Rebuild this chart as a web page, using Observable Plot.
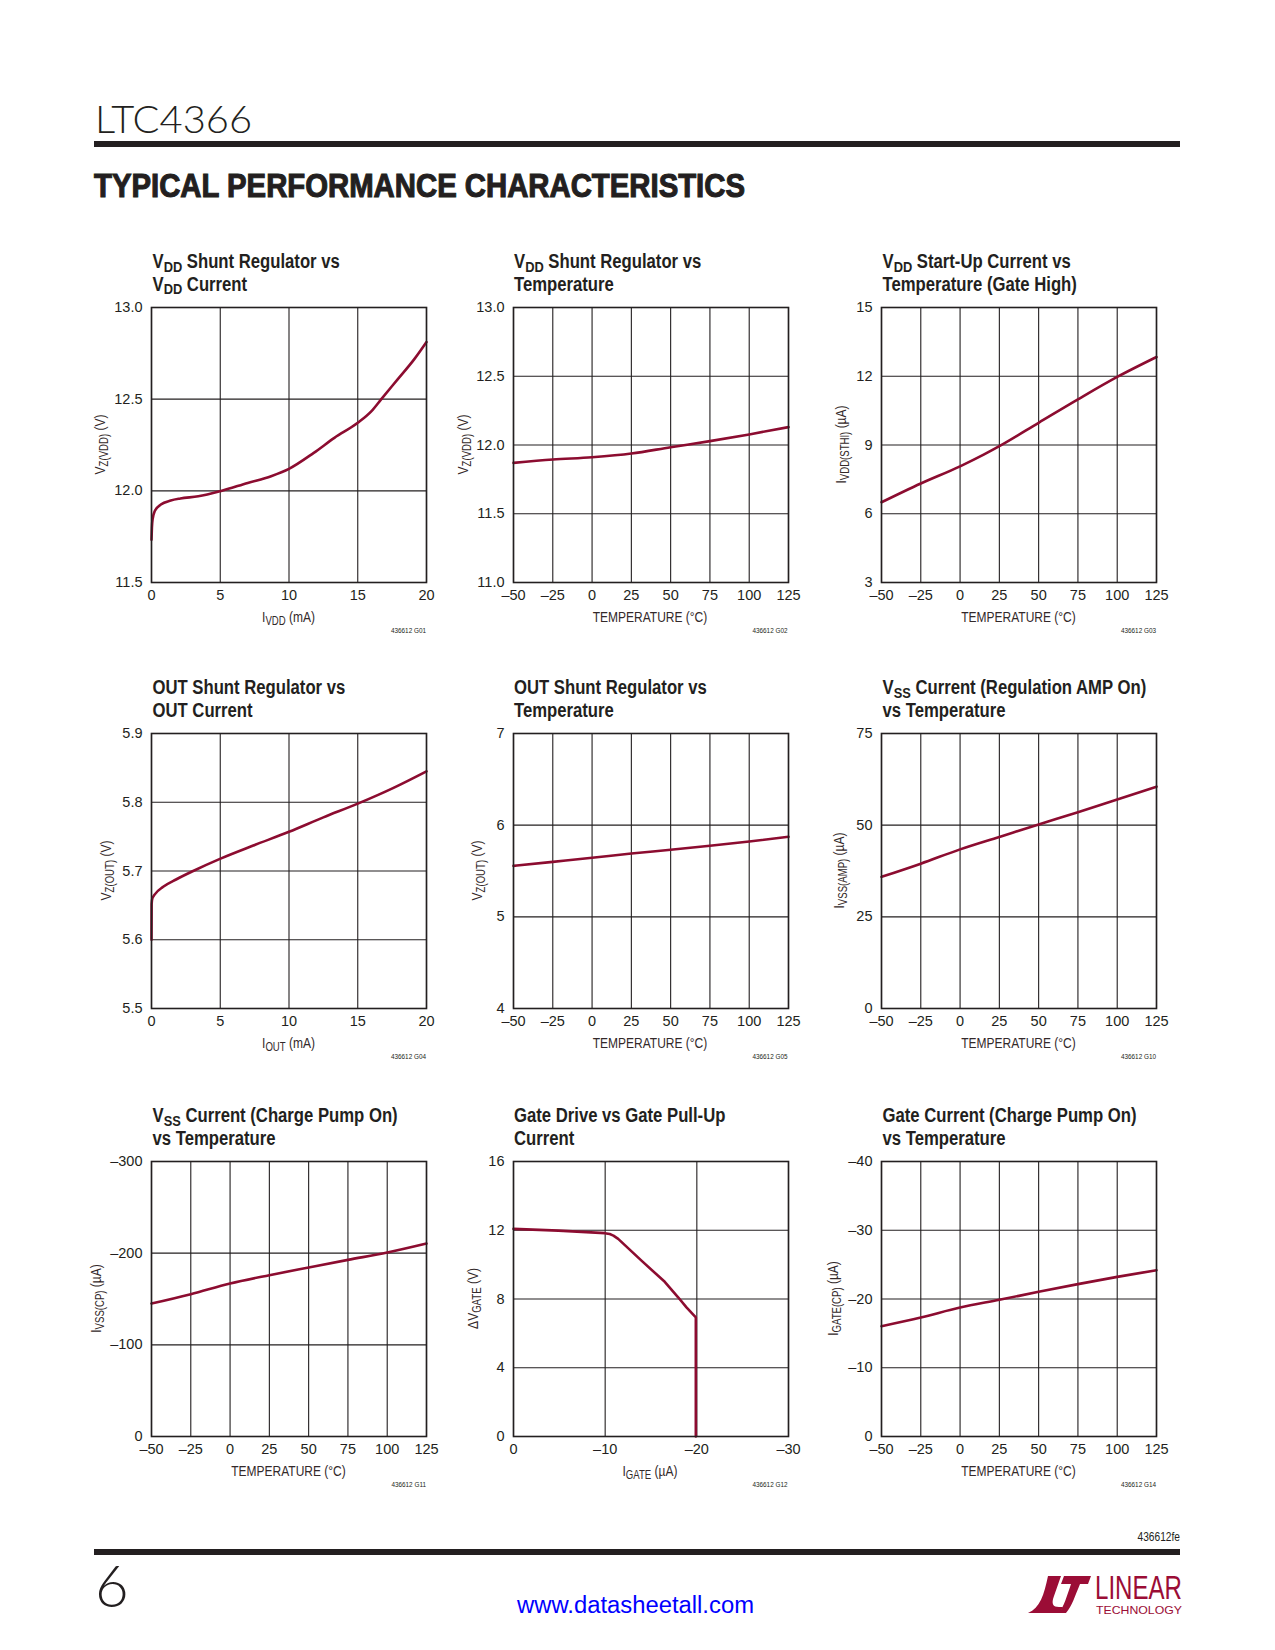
<!DOCTYPE html>
<html>
<head>
<meta charset="utf-8">
<script src="https://cdn.jsdelivr.net/npm/d3@7"></script>
<script src="https://cdn.jsdelivr.net/npm/@observablehq/plot@0.6"></script>
<style>
html, body { margin:0; padding:0; background:#fff; }
#page { position:relative; width:1275px; height:1650px; overflow:hidden; background:#fff; }
.chart { position:absolute; }
#overlay { position:absolute; left:0; top:0; pointer-events:none; }
</style>
</head>
<body>
<div id="page"></div>
<script>
// ---------- tick values and labels ----------
const XT_TEMP = [-50, -25, 0, 25, 50, 75, 100, 125];
const XL_TEMP = ["–50", "–25", "0", "25", "50", "75", "100", "125"];
const XT_MA = [0, 5, 10, 15, 20];
const XL_MA = ["0", "5", "10", "15", "20"];
const XT_GATE = [0, -10, -20, -30];
const XL_GATE = ["0", "–10", "–20", "–30"];
const YT1 = [11.5, 12, 12.5, 13];          const YL1 = ["11.5", "12.0", "12.5", "13.0"];
const YT2 = [11, 11.5, 12, 12.5, 13];      const YL2 = ["11.0", "11.5", "12.0", "12.5", "13.0"];
const YT3 = [3, 6, 9, 12, 15];             const YL3 = ["3", "6", "9", "12", "15"];
const YT4 = [5.5, 5.6, 5.7, 5.8, 5.9];     const YL4 = ["5.5", "5.6", "5.7", "5.8", "5.9"];
const YT5 = [4, 5, 6, 7];                  const YL5 = ["4", "5", "6", "7"];
const YT6 = [0, 25, 50, 75];               const YL6 = ["0", "25", "50", "75"];
const YT7 = [0, -100, -200, -300];         const YL7 = ["0", "–100", "–200", "–300"];
const YT8 = [0, 4, 8, 12, 16];             const YL8 = ["0", "4", "8", "12", "16"];
const YT9 = [0, -10, -20, -30, -40];       const YL9 = ["0", "–10", "–20", "–30", "–40"];

// ---------- series ----------
// G01: VDD shunt regulator vs VDD current
const g01_ivdd = [0, 0.03, 0.08, 0.24, 0.68, 1.4, 2.1, 3.4, 5.0, 7.0, 8.7, 10.0, 11.8, 13.3, 15.0, 16.0, 16.7, 17.9, 19.1, 20.0];
const g01_vz   = [11.733, 11.80, 11.845, 11.89, 11.925, 11.947, 11.958, 11.970, 11.998, 12.043, 12.080, 12.120, 12.207, 12.289, 12.371, 12.435, 12.499, 12.608, 12.717, 12.812];
// G02: VDD shunt regulator vs temperature
const g02_temp = [-50, -25, 0, 25, 50, 75, 100, 125];
const g02_vz   = [11.870, 11.894, 11.911, 11.938, 11.984, 12.028, 12.077, 12.130];
// G03: VDD start-up current vs temperature
const g03_temp = [-50, -25, 0, 15, 25, 50, 75, 100, 125];
const g03_i    = [6.50, 7.32, 8.07, 8.58, 8.95, 9.97, 10.99, 11.97, 12.84];
// G04: OUT shunt regulator vs OUT current
const g04_iout = [0, 0.01, 0.06, 0.24, 0.85, 1.82, 3.03, 5.02, 7.4, 10.0, 12.5, 15.0, 17.6, 20.0];
const g04_vz   = [5.600, 5.652, 5.660, 5.666, 5.677, 5.688, 5.700, 5.718, 5.737, 5.757, 5.778, 5.798, 5.821, 5.845];
// G05: OUT shunt regulator vs temperature
const g05_temp = [-50, -25, 0, 25, 50, 75, 100, 125];
const g05_vz   = [5.556, 5.600, 5.644, 5.691, 5.731, 5.775, 5.822, 5.873];
// G10: VSS current (regulation amp on) vs temperature
const g10_temp = [-50, -25, 0, 25, 50, 75, 100, 125];
const g10_i    = [35.9, 39.5, 43.4, 46.8, 50.2, 53.5, 57.0, 60.5];
// G11: VSS current (charge pump on) vs temperature
const g11_temp = [-50, -25, 0, 25, 50, 75, 100, 125];
const g11_i    = [-145.1, -155.3, -166.9, -176.0, -184.4, -192.7, -200.7, -210.5];
// G12: gate drive vs gate pull-up current
const g12_igate = [0, -4.9, -9.96, -10.5, -10.9, -11.42, -13.96, -16.5, -17.96, -18.87, -19.89, -19.89];
const g12_dv    = [12.08, 11.98, 11.83, 11.78, 11.69, 11.50, 10.23, 9.00, 8.10, 7.51, 6.93, 0];
// G14: gate current (charge pump on) vs temperature
const g14_temp = [-50, -25, 0, 25, 50, 75, 100, 125];
const g14_i    = [-16.05, -17.31, -18.76, -19.88, -21.04, -22.16, -23.22, -24.19];

// ---------- text ----------
const TEMP_LABEL = ["TEMPERATURE (°C)"];

const SANS = '"Liberation Sans", Arial, sans-serif';
const INK = "#231f20";
const LABEL_INK = "#33292a";
const RED = "#8c0c30";
const LOGO = "#9b0d36";

const charts = [
  {left:151, top:307, xs:g01_ivdd, ys:g01_vz, xdom:[0,20], ydom:[11.5,13], xt:XT_MA, xl:XL_MA, yt:YT1, yl:YL1, curve:"monotone-x",
   t1:["V",{sub:"DD"}," Shunt Regulator vs"], t2:["V",{sub:"DD"}," Current"],
   ylab:["V",{sub:"Z(VDD)"}," (V)"], yoff:-46, xlab:["I",{sub:"VDD"}," (mA)"], code:"436612 G01"},
  {left:512.5, top:307, xs:g02_temp, ys:g02_vz, xdom:[-50,125], ydom:[11,13], xt:XT_TEMP, xl:XL_TEMP, yt:YT2, yl:YL2, curve:"monotone-x",
   t1:["V",{sub:"DD"}," Shunt Regulator vs"], t2:["Temperature"],
   ylab:["V",{sub:"Z(VDD)"}," (V)"], yoff:-45, xlab:TEMP_LABEL, code:"436612 G02"},
  {left:881, top:307, xs:g03_temp, ys:g03_i, xdom:[-50,125], ydom:[3,15], xt:XT_TEMP, xl:XL_TEMP, yt:YT3, yl:YL3, curve:"monotone-x",
   t1:["V",{sub:"DD"}," Start-Up Current vs"], t2:["Temperature (Gate High)"],
   ylab:["I",{sub:"VDD(STHI)"}," (µA)"], yoff:-35, xlab:TEMP_LABEL, code:"436612 G03"},
  {left:151, top:733, xs:g04_iout, ys:g04_vz, xdom:[0,20], ydom:[5.5,5.9], xt:XT_MA, xl:XL_MA, yt:YT4, yl:YL4, curve:"monotone-x",
   t1:["OUT Shunt Regulator vs"], t2:["OUT Current"],
   ylab:["V",{sub:"Z(OUT)"}," (V)"], yoff:-40, xlab:["I",{sub:"OUT"}," (mA)"], code:"436612 G04"},
  {left:512.5, top:733, xs:g05_temp, ys:g05_vz, xdom:[-50,125], ydom:[4,7], xt:XT_TEMP, xl:XL_TEMP, yt:YT5, yl:YL5, curve:"monotone-x",
   t1:["OUT Shunt Regulator vs"], t2:["Temperature"],
   ylab:["V",{sub:"Z(OUT)"}," (V)"], yoff:-31, xlab:TEMP_LABEL, code:"436612 G05"},
  {left:881, top:733, xs:g10_temp, ys:g10_i, xdom:[-50,125], ydom:[0,75], xt:XT_TEMP, xl:XL_TEMP, yt:YT6, yl:YL6, curve:"monotone-x",
   t1:["V",{sub:"SS"}," Current (Regulation AMP On)"], t2:["vs Temperature"],
   ylab:["I",{sub:"VSS(AMP)"}," (µA)"], yoff:-37, xlab:TEMP_LABEL, code:"436612 G10"},
  {left:151, top:1161, xs:g11_temp, ys:g11_i, xdom:[-50,125], ydom:[0,-300], xt:XT_TEMP, xl:XL_TEMP, yt:YT7, yl:YL7, curve:"monotone-x",
   t1:["V",{sub:"SS"}," Current (Charge Pump On)"], t2:["vs Temperature"],
   ylab:["I",{sub:"VSS(CP)"}," (µA)"], yoff:-50, xlab:TEMP_LABEL, code:"436612 G11"},
  {left:512.5, top:1161, xs:g12_igate, ys:g12_dv, xdom:[0,-30], ydom:[0,16], xt:XT_GATE, xl:XL_GATE, yt:YT8, yl:YL8, curve:"linear",
   t1:["Gate Drive vs Gate Pull-Up"], t2:["Current"],
   ylab:["ΔV",{sub:"GATE"}," (V)"], yoff:-35, xlab:["I",{sub:"GATE"}," (µA)"], code:"436612 G12"},
  {left:881, top:1161, xs:g14_temp, ys:g14_i, xdom:[-50,125], ydom:[0,-40], xt:XT_TEMP, xl:XL_TEMP, yt:YT9, yl:YL9, curve:"monotone-x",
   t1:["Gate Current (Charge Pump On)"], t2:["vs Temperature"],
   ylab:["I",{sub:"GATE(CP)"}," (µA)"], yoff:-43, xlab:TEMP_LABEL, code:"436612 G14"}
];

const page = document.getElementById("page");
const PW = 275, PH = 275, mL = 60, mR = 14, mT = 10, mB = 30;

charts.forEach(c => {
  const data = c.xs.map((x, i) => ({x, y: c.ys[i]}));
  const fmtX = d => c.xl[c.xt.indexOf(d)];
  const fmtY = d => c.yl[c.yt.indexOf(d)];
  const svg = Plot.plot({
    width: PW + mL + mR, height: PH + mT + mB,
    marginLeft: mL, marginRight: mR, marginTop: mT, marginBottom: mB,
    x: {type: "linear", domain: c.xdom},
    y: {type: "linear", domain: c.ydom},
    style: {fontFamily: SANS, fontSize: "14.5px", color: INK, background: "transparent", overflow: "visible", maxWidth: "none"},
    marks: [
      Plot.gridX(c.xt, {stroke: INK, strokeOpacity: 1, strokeWidth: 1.1}),
      Plot.gridY(c.yt, {stroke: INK, strokeOpacity: 1, strokeWidth: 1.1}),
      Plot.line(data, {x: "x", y: "y", stroke: RED, strokeWidth: 2.6, curve: c.curve}),
      Plot.frame({stroke: INK, strokeWidth: 1.6}),
      Plot.axisX(c.xt, {tickSize: 0, tickPadding: 7.5, tickFormat: fmtX, label: null, fill: INK}),
      Plot.axisY(c.yt, {tickSize: 0, tickPadding: 9, tickFormat: fmtY, label: null, fill: INK})
    ]
  });
  const div = document.createElement("div");
  div.className = "chart";
  div.style.left = (c.left - mL) + "px";
  div.style.top = (c.top - mT) + "px";
  div.appendChild(svg);
  page.appendChild(div);
});

// ---------- overlay text ----------
const ov = d3.select(page).append("svg").attr("id", "overlay").attr("width", 1275).attr("height", 1650);

function rich(sel, parts, fs, subScale, shift) {
  let cur = 0;
  parts.forEach(p => {
    const isSub = typeof p === "object";
    const t = sel.append("tspan").text(isSub ? p.sub : p);
    if (isSub) { t.attr("font-size", fs * subScale).attr("dy", shift - cur); cur = shift; }
    else { t.attr("font-size", fs).attr("dy", -cur); cur = 0; }
  });
}

const TITLE_SX = 0.835, LABEL_SX = 0.8;
charts.forEach(c => {
  // title (two lines)
  [[c.t1, c.top - 39], [c.t2, c.top - 16.5]].forEach(([parts, y]) => {
    const g = ov.append("g").attr("transform", `translate(${c.left + 1.5},${y}) scale(${TITLE_SX},1)`);
    const t = g.append("text").attr("font-family", SANS).attr("font-weight", "bold").attr("fill", INK);
    rich(t, parts, 20, 0.77, 3.5);
  });
  // y label
  const gy = ov.append("g").attr("transform", `translate(${c.left + c.yoff},${c.top + PH / 2}) rotate(-90) scale(${LABEL_SX},1)`);
  const yl = gy.append("text").attr("text-anchor", "middle").attr("font-family", SANS).attr("fill", LABEL_INK);
  rich(yl, c.ylab, 15, 0.8, 3);
  // x label
  const gx = ov.append("g").attr("transform", `translate(${c.left + PW / 2},${c.top + PH + 40}) scale(${LABEL_SX},1)`);
  const xl = gx.append("text").attr("text-anchor", "middle").attr("font-family", SANS).attr("fill", LABEL_INK);
  rich(xl, c.xlab, 15, 0.8, 3);
  // figure code
  const gc = ov.append("g").attr("transform", `translate(${c.left + PW},${c.top + PH + 51}) scale(0.85,1)`);
  gc.append("text").attr("text-anchor", "end").attr("font-family", SANS).attr("font-size", 7.5).attr("fill", INK)
    .text(c.code);
});

// header
ov.append("text").attr("x", 95).attr("y", 133).attr("font-family", "Lato, 'Open Sans', sans-serif").attr("font-weight", 300)
  .attr("font-size", 37).attr("fill", INK).attr("textLength", 157).attr("lengthAdjust", "spacingAndGlyphs").text("LTC4366");
ov.append("rect").attr("x", 94).attr("y", 141).attr("width", 1086).attr("height", 6).attr("fill", INK);
ov.append("text").attr("x", 94).attr("y", 197).attr("font-family", SANS).attr("font-weight", "bold")
  .attr("font-size", 33).attr("fill", INK).attr("stroke", INK).attr("stroke-width", 1.1)
  .attr("textLength", 651).attr("lengthAdjust", "spacingAndGlyphs").text("TYPICAL PERFORMANCE CHARACTERISTICS");

// footer
ov.append("g").attr("transform", "translate(1180,1541) scale(0.85,1)")
  .append("text").attr("text-anchor", "end").attr("font-family", SANS)
  .attr("font-size", 12).attr("fill", INK).text("436612fe");
ov.append("rect").attr("x", 94).attr("y", 1549).attr("width", 1086).attr("height", 6).attr("fill", INK);
ov.append("text").attr("x", 95).attr("y", 1607).attr("font-family", "Lato, 'Open Sans', sans-serif").attr("font-weight", 300)
  .attr("font-size", 58).attr("fill", INK).text("6");
ov.append("text").attr("x", 517).attr("y", 1613).attr("font-family", SANS)
  .attr("font-size", 23).attr("fill", "#0000ff").attr("textLength", 237).attr("lengthAdjust", "spacingAndGlyphs")
  .text("www.datasheetall.com");

// logo
const lg = ov.append("g").attr("fill", LOGO);
lg.append("path").attr("d", "M1028,1613 C1040,1608 1044,1595 1048,1576 L1061,1576 L1054,1596 C1051,1604 1053,1607 1059,1607 L1063,1607 L1060,1613 Z");
lg.append("path").attr("d", "M1064,1576 L1091,1576 L1088,1584 L1080,1584 C1075,1596 1072,1606 1066,1613 L1059,1613 C1064,1606 1067,1596 1071,1584 L1061,1584 Z");
lg.append("g").attr("transform", "translate(1095,1599) scale(1,1.2)")
  .append("text").attr("font-family", SANS).attr("font-size", 27)
  .attr("textLength", 87).attr("lengthAdjust", "spacingAndGlyphs").text("LINEAR");
lg.append("text").attr("x", 1096).attr("y", 1614).attr("font-family", SANS).attr("font-size", 10.5)
  .attr("textLength", 86).attr("lengthAdjust", "spacingAndGlyphs").text("TECHNOLOGY");
</script>
</body>
</html>
